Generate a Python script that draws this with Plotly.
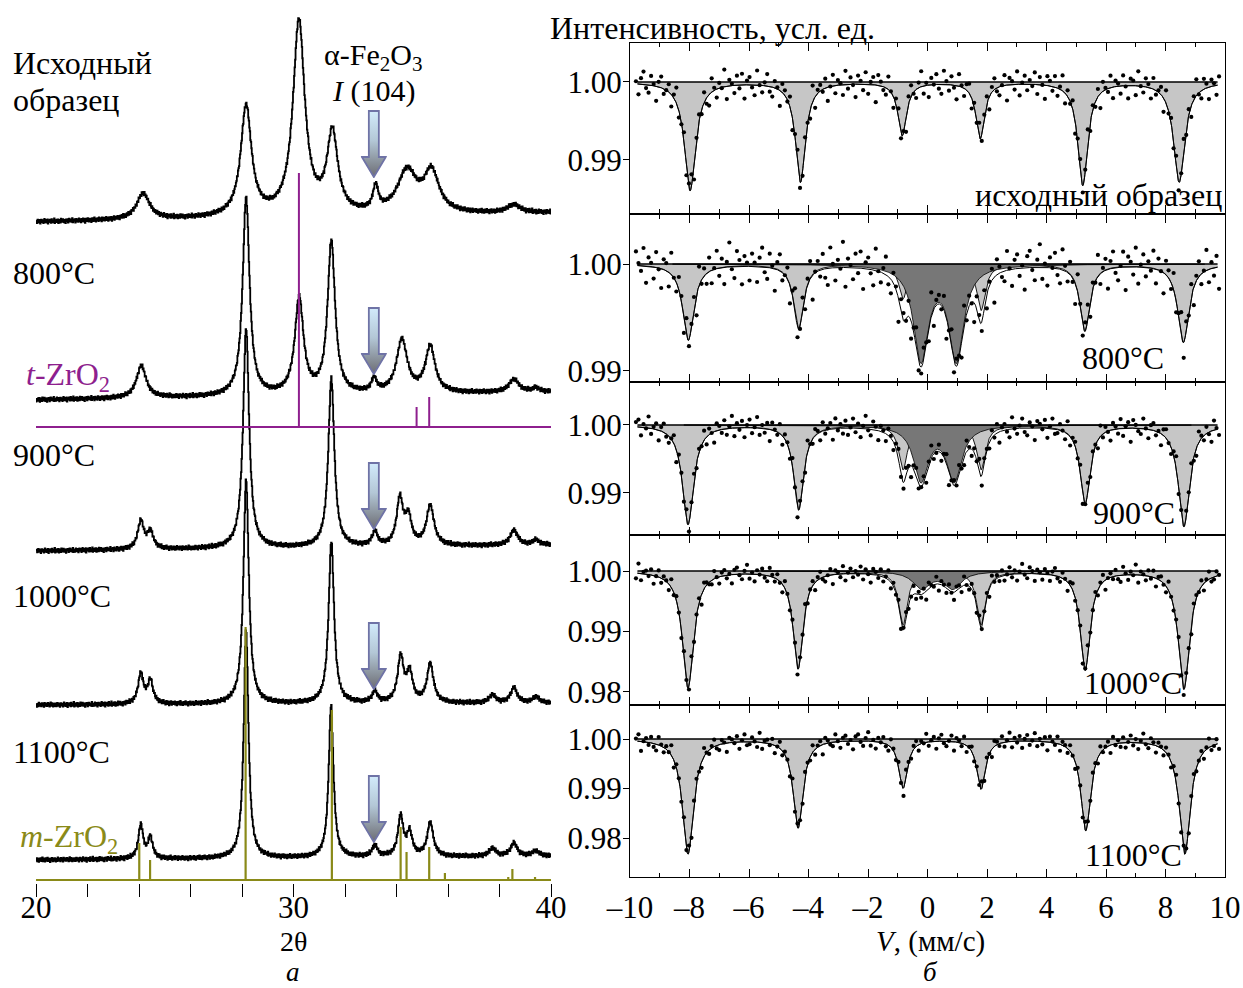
import base64
import numpy as np
import plotly.graph_objects as go

W, H = 1243, 988
FONT = "Liberation Serif"

# ---------------- XRD (panel a): 2θ, peak positions / heights / widths ----------------
xrd_labels = ["Исходный образец", "800°C", "900°C", "1000°C", "1100°C"]
xrd_base_left = [658, 480, 329, 175, 20]
xrd_base_right = [667, 488, 335, 177, 24]

xrd0_pos = [24.15, 28.15, 30.2, 31.5, 33.18, 34.4, 35.35, 38.55]
xrd0_h = [26, 110, 194, 80, 24, 42, 40, 8]
xrd0_w = [0.6, 0.5, 0.55, 0.5, 0.25, 0.9, 0.7, 0.6]

xrd1_pos = [24.08, 28.15, 30.21, 31.46, 33.12, 34.2, 35.3, 38.55, 39.4]
xrd1_h = [32, 198, 96, 152, 13, 53, 46, 13, 4]
xrd1_w = [0.45, 0.32, 0.4, 0.35, 0.25, 0.5, 0.45, 0.45, 0.3]

xrd2_pos = [24.06, 24.43, 28.15, 31.46, 33.15, 34.12, 34.45, 35.3, 38.55, 39.4]
xrd2_h = [28, 17, 220, 168, 14, 46, 27, 40, 15, 5]
xrd2_w = [0.28, 0.28, 0.28, 0.28, 0.25, 0.3, 0.3, 0.35, 0.35, 0.3]

xrd3_pos = [24.06, 24.43, 28.15, 31.46, 33.15, 34.15, 34.5, 35.3, 37.72, 38.55, 39.4]
xrd3_h = [30, 23, 224, 162, 11, 45, 29, 39, 8, 15, 6]
xrd3_w = [0.25, 0.25, 0.25, 0.25, 0.25, 0.28, 0.28, 0.3, 0.3, 0.3, 0.3]

xrd4_pos = [24.06, 24.43, 28.15, 31.45, 33.15, 34.15, 34.5, 35.3, 37.72, 38.55, 39.4]
xrd4_h = [34, 21, 228, 152, 11, 40, 23, 34, 8, 13, 5]
xrd4_w = [0.22, 0.22, 0.22, 0.22, 0.25, 0.25, 0.25, 0.28, 0.3, 0.3, 0.3]

xrd_pos = [xrd0_pos, xrd1_pos, xrd2_pos, xrd3_pos, xrd4_pos]
xrd_h = [xrd0_h, xrd1_h, xrd2_h, xrd3_h, xrd4_h]
xrd_w = [xrd0_w, xrd1_w, xrd2_w, xrd3_w, xrd4_w]

# reference sticks
t_zro2_pos = [30.21, 34.78, 35.27]
t_zro2_h = [254, 20, 30]
t_zro2_base = 453
m_zro2_pos = [24.01, 24.43, 28.14, 31.49, 34.16, 34.39, 35.27, 35.88, 38.34, 38.5, 39.38]
m_zro2_h = [37, 20, 253, 170, 53, 28, 33, 7, 3, 11, 3]
m_zro2_base = 0

# α-Fe2O3 (104) arrows: 2θ and top of each arrow (y units of panel a)
arrow_2theta = 33.12
arrow_top = [770, 573, 418, 258, 105]

# ---------------- Mössbauer (panel б) ----------------
moss_labels = ["исходный образец", "800°C", "900°C", "1000°C", "1100°C"]
sext_pos = [
    [-7.98, -4.27, -0.85, 1.77, 5.22, 8.46],
    [-8.04, -4.33, -0.82, 1.80, 5.29, 8.60],
    [-8.05, -4.33, -0.82, 1.80, 5.30, 8.62],
    [-8.05, -4.35, -0.82, 1.80, 5.30, 8.62],
    [-8.05, -4.35, -0.82, 1.80, 5.32, 8.65],
]
sext_depth = [
    [0.0139, 0.0128, 0.0068, 0.0072, 0.0132, 0.0128],
    [0.0071, 0.0060, 0.0032, 0.0043, 0.0062, 0.0073],
    [0.0146, 0.0124, 0.0065, 0.0065, 0.0115, 0.0149],
    [0.0193, 0.0161, 0.0088, 0.0088, 0.0163, 0.0195],
    [0.0232, 0.0179, 0.0098, 0.0100, 0.0184, 0.0232],
]
sext_width = [0.45, 0.40, 0.35, 0.35, 0.40, 0.45]
doub_pos = [[], [-0.22, 0.97], [-0.22, 0.90], [-0.20, 0.85], []]
doub_depth = [[], [0.0088, 0.0088], [0.0080, 0.0080], [0.0028, 0.0028], []]
doub_width = [0.0, 0.6, 0.6, 0.7, 0.0]
noise_scale = [1.1e-4, 1.2e-4, 1.0e-4, 0.85e-4, 1.0e-4]
noise_shift = [0, 47, 101, 163, 211]
moss_yticks = [[0.99, 1.00], [0.99, 1.00], [0.99, 1.00], [0.98, 0.99, 1.00], [0.98, 0.99, 1.00]]
moss_yrange = [[0.9832, 1.0050], [0.98897, 1.00458], [0.98382, 1.00632], [0.97785, 1.00595], [0.97212, 1.00687]]

# scatter residuals read as typical deviations (units of noise_scale)
resid = [3, -12, 7, 15, -4, -9, 11, 2, -17, 6, 13, -6, 0, 9, -14, 4, 18, -8, -2, 10,
         -11, 5, 14, -19, 1, 8, -5, 12, -7, -13, 16, 3, -10, 6, -1, 20, -15, 7, 2, -9,
         11, -4, 13, -16, 5, 9, -3, -12, 17, 0, -8, 4, 14, -6, -11, 8, 2, -18, 10, 6,
         -2, 12, -14, 3, 15, -7, -5, 9, 1, -10, 19, -13, 4, 7, -3, 11, -16, 0, 13, -9,
         6, 2, -12, 16, -5, 8, -1, -15, 10, 4, -7, 14, -11, 3, 9, -20, 12, 5, -4, -8,
         15, 1, -13, 7, 11, -6, 2, -17, 9, 13, -2, -10, 6, 18, -9, 3, -14, 8, 0, 12,
         -5, -11, 16, 4, -7, 10, -3, -16, 14, 2, -9, 7, 11, -12, 5, -1, 17, -8, 3, 9,
         -15, 6, 13, -4, -10, 1, 12, -18, 8, 4, -6, 15, -13, 2, 10, -7, 5, -2, 14, -11,
         9, 0, -16, 11, 6, -5, 13, -9, 3, 18, -12, 7, -3, 10, -14, 4, 12, -8, 1, 16,
         -10, 5, -6, 9, -17, 11, 2, -4, 14, -13, 7, 3, -9, 12, -1, -15, 8, 6, -11, 17,
         0, -7, 10, 4, -12, 13, -5, 2, 9, -16, 15, -3, 6, -8, 11, -10, 1, 14, -6, 7,
         -13, 4, 19, -2, -9, 12, 5, -14, 8, 3, -11, 10]
resid = np.array(resid, dtype=float)

# ---------------- helpers ----------------
def lor(x, c, w):
    return 1.0 / (1.0 + ((x - c) / (w / 2.0)) ** 2)

fig = go.Figure()

# ---- panel a traces ----
tt = np.arange(20.0, 40.0001, 0.02)
noise_x = np.resize(resid, tt.size)
for i in range(5):
    base = xrd_base_left[i] + (xrd_base_right[i] - xrd_base_left[i]) * (tt - 20) / 20
    y = base.copy()
    for c, h, w in zip(xrd_pos[i], xrd_h[i], xrd_w[i]):
        y = y + h * lor(tt, c, w)
    y = y + 0.13 * np.roll(noise_x, 37 * i)
    fig.add_trace(go.Scatter(x=tt, y=y, mode="lines", xaxis="x", yaxis="y",
                             line=dict(color="black", width=1.8, shape="hv"),
                             showlegend=False, hoverinfo="skip"))

PURPLE = "#8e1f8e"
OLIVE = "#8a8a18"

def sticks(pos, hts, base):
    xs, ys = [], []
    for c, h in zip(pos, hts):
        xs += [c, c, None]
        ys += [base, base + h, None]
    return xs, ys

xs, ys = sticks(t_zro2_pos, t_zro2_h, t_zro2_base)
fig.add_trace(go.Scatter(x=xs + [20, 40], y=ys + [t_zro2_base, t_zro2_base], mode="lines",
                         xaxis="x", yaxis="y", line=dict(color=PURPLE, width=2),
                         showlegend=False, hoverinfo="skip"))
xs, ys = sticks(m_zro2_pos, m_zro2_h, m_zro2_base)
fig.add_trace(go.Scatter(x=xs + [20, 40], y=ys + [m_zro2_base, m_zro2_base], mode="lines",
                         xaxis="x", yaxis="y", line=dict(color=OLIVE, width=2.2),
                         showlegend=False, hoverinfo="skip"))

# arrows as gradient svg images
svg = ('<svg xmlns="http://www.w3.org/2000/svg" width="26" height="68" viewBox="0 0 26 68">'
       '<defs><linearGradient id="g" x1="0" y1="0" x2="0" y2="1">'
       '<stop offset="0" stop-color="#d2ebfb"/><stop offset="0.45" stop-color="#b3c7d6"/>'
       '<stop offset="1" stop-color="#6c6c72"/></linearGradient></defs>'
       '<path d="M8,1 H18 V47 H25 L13,67 L1,47 H8 Z" fill="url(#g)" stroke="#6f73a6" '
       'stroke-width="1.8" stroke-linejoin="miter"/></svg>')
src = "data:image/svg+xml;base64," + base64.b64encode(svg.encode()).decode()
images = []
for top in arrow_top:
    images.append(dict(source=src, xref="x", yref="y", x=arrow_2theta, y=top,
                       sizex=26 / 25.75, sizey=68, xanchor="center", yanchor="top",
                       sizing="stretch", layer="above"))

# ---- panel б traces ----
vd = np.linspace(-9.75, 9.75, 1951)
vch = np.linspace(-9.8, 9.8, resid.size)
for k in range(5):
    ax = "x%d" % (k + 2)
    ay = "y%d" % (k + 2)
    def sext(v):
        s = np.zeros_like(v)
        for c, d, w in zip(sext_pos[k], sext_depth[k], sext_width):
            s = s + d * lor(v, c, w)
        return s
    def doub(v):
        s = np.zeros_like(v)
        for c, d in zip(doub_pos[k], doub_depth[k]):
            s = s + d * lor(v, c, doub_width[k])
        return s
    s_d = sext(vd)
    d_d = doub(vd)
    # sextet fill
    fig.add_trace(go.Scatter(x=np.concatenate([vd, vd[::-1]]),
                             y=np.concatenate([1 - s_d, np.ones_like(vd)]),
                             fill="toself", fillcolor="#c6c6c6", mode="lines",
                             line=dict(width=0), xaxis=ax, yaxis=ay,
                             showlegend=False, hoverinfo="skip"))
    fig.add_trace(go.Scatter(x=vd, y=1 - s_d, mode="lines", line=dict(color="black", width=0.9),
                             xaxis=ax, yaxis=ay, showlegend=False, hoverinfo="skip"))
    if len(doub_pos[k]):
        m = d_d > 2e-5
        vv = vd[m]
        fig.add_trace(go.Scatter(x=np.concatenate([vv, vv[::-1]]),
                                 y=np.concatenate([1 - d_d[m], np.ones_like(vv)]),
                                 fill="toself", fillcolor="#777777", mode="lines",
                                 line=dict(color="black", width=0.8), xaxis=ax, yaxis=ay,
                                 showlegend=False, hoverinfo="skip"))
    # total envelope
    fig.add_trace(go.Scatter(x=vd, y=1 - s_d - d_d, mode="lines", line=dict(color="black", width=1),
                             xaxis=ax, yaxis=ay, showlegend=False, hoverinfo="skip"))
    # baseline
    fig.add_trace(go.Scatter(x=[-9.75, 9.75], y=[1, 1], mode="lines",
                             line=dict(color="black", width=1.3),
                             xaxis=ax, yaxis=ay, showlegend=False, hoverinfo="skip"))
    # data points
    pts = 1 - sext(vch) - doub(vch) + noise_scale[k] * np.roll(resid, noise_shift[k])
    fig.add_trace(go.Scatter(x=vch, y=pts, mode="markers",
                             marker=dict(color="black", size=4.2),
                             xaxis=ax, yaxis=ay, showlegend=False, hoverinfo="skip"))

# ---------------- layout ----------------
def px_x(p):
    return p / W

def dom_y(top, bottom):
    return [(H - bottom) / H, (H - top) / H]

TICKF = dict(size=31, family=FONT, color="black")

layout = dict(
    template="none",
    width=W, height=H, margin=dict(l=0, r=0, t=0, b=0, autoexpand=False),
    paper_bgcolor="white", plot_bgcolor="white",
    font=dict(family=FONT, color="black", size=31),
    showlegend=False, images=images,
    xaxis=dict(domain=[px_x(36), px_x(551)], range=[20, 40], showgrid=False, zeroline=False,
               showline=False, tickvals=[20, 30, 40], ticks="outside", ticklen=13,
               tickcolor="black", tickwidth=1.3, tickfont=TICKF,
               minor=dict(tickvals=[22, 24, 26, 28, 32, 34, 36, 38], ticks="outside",
                          ticklen=13, tickcolor="black", tickwidth=1.3),
               ticklabelstandoff=-16,
               anchor="y", fixedrange=True, automargin=False),
    yaxis=dict(domain=dom_y(0, 883), range=[-3, 880], visible=False, anchor="x",
               fixedrange=True, automargin=False),
)

moss_tops = [43, 215, 382, 535, 705]
moss_bottoms = [213, 382, 535, 705, 877]
xt = list(range(-10, 11, 2))
xtt = [("–%d" % -v) if v < 0 else str(v) for v in xt]
for k in range(5):
    xa = dict(domain=[px_x(630), px_x(1225)], range=[-10, 10], showgrid=False, zeroline=False,
              showline=True, linecolor="black", linewidth=1.2, mirror="allticks",
              ticks="inside", ticklen=8, tickcolor="black", tickwidth=1,
              tickvals=xt, ticktext=xtt,
              minor=dict(tickvals=list(range(-9, 10, 2)), ticks="inside", ticklen=4,
                         tickcolor="black", tickwidth=1),
              showticklabels=(k == 4), tickfont=TICKF,
              anchor="y%d" % (k + 2), fixedrange=True, automargin=False)
    if k == 4:
        xa["ticklabelstandoff"] = 3
    ya = dict(domain=dom_y(moss_tops[k], moss_bottoms[k]), range=moss_yrange[k],
              showgrid=False, zeroline=False, showline=True, linecolor="black", linewidth=1.2,
              mirror=True, ticks="outside", ticklen=6, tickcolor="black",
              tickvals=moss_yticks[k], ticktext=["%.2f" % v for v in moss_yticks[k]],
              tickfont=TICKF, ticklabelstandoff=-5, anchor="x%d" % (k + 2),
              fixedrange=True, automargin=False)
    layout["xaxis%d" % (k + 2)] = xa
    layout["yaxis%d" % (k + 2)] = ya

def ann(text, px, py, xanchor="left", size=32, color="black"):
    return dict(text=text, x=px / W, y=1 - py / H, xref="paper", yref="paper",
                xanchor=xanchor, yanchor="middle", showarrow=False,
                font=dict(family=FONT, size=size, color=color))

annotations = [
    ann("Исходный", 11, 63), ann("образец", 11, 100),
    ann(xrd_labels[1], 11, 273),
    ann("<i>t</i>-ZrO<sub>2</sub>", 24, 376, color=PURPLE),
    ann(xrd_labels[2], 11, 455),
    ann(xrd_labels[3], 11, 596),
    ann(xrd_labels[4], 11, 752),
    ann("<i>m</i>-ZrO<sub>2</sub>", 18, 838, color=OLIVE),
    ann("α-Fe<sub>2</sub>O<sub>3</sub>", 373, 57, xanchor="center", size=30),
    ann("<i>I</i> (104)", 373, 91, xanchor="center", size=30),
    ann("2θ", 293, 941, xanchor="center", size=28),
    ann("<i>а</i>", 293, 972, xanchor="center", size=27),
    ann("Интенсивность, усл. ед.", 548, 28),
    ann(moss_labels[0], 1224, 195, xanchor="right"),
    ann(moss_labels[1], 1166, 358, xanchor="right"),
    ann(moss_labels[2], 1177, 513, xanchor="right"),
    ann(moss_labels[3], 1184, 683, xanchor="right"),
    ann(moss_labels[4], 1184, 855, xanchor="right"),
    ann("<i>V</i>, (мм/с)", 930, 941, xanchor="center", size=29),
    ann("<i>б</i>", 930, 972, xanchor="center", size=27),
]
layout["annotations"] = annotations

fig.update_layout(**layout)
fig.write_html("out.html", config={"displayModeBar": False},
               post_script="document.body.style.margin='0';document.body.style.padding='0';")
